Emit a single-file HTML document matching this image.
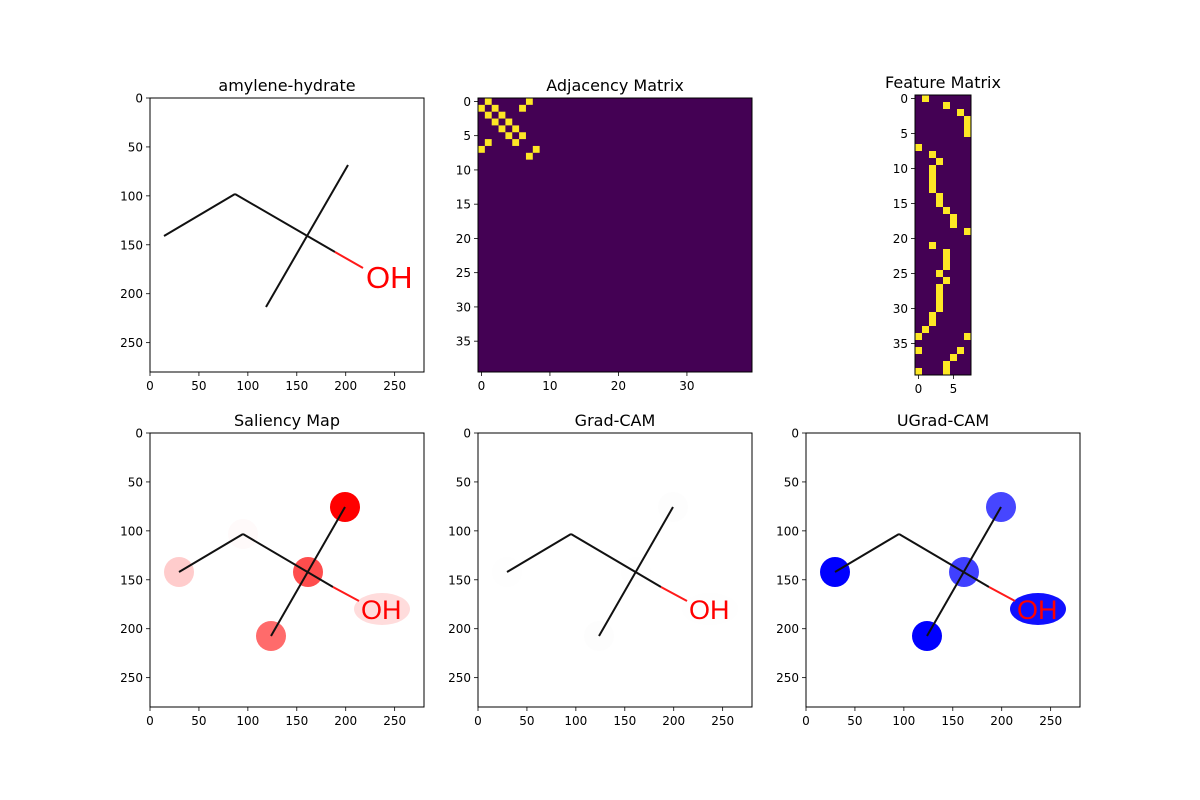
<!DOCTYPE html>
<html><head><meta charset="utf-8"><style>
html,body{margin:0;padding:0;background:#fff}
svg{display:block;font-family:"DejaVu Sans","Liberation Sans",sans-serif}
</style></head><body>
<svg id="fig" width="1200" height="800" viewBox="0 0 1200 800" xmlns="http://www.w3.org/2000/svg"></svg>
<script>
// Adjacency edges (row, col) for 40x40 matrix
const adjRows = [0,0,1,1,1,2,2,3,3,4,4,5,5,6,6,7,7,8];
const adjCols = [1,7,0,2,6,1,3,2,4,3,5,4,6,1,5,0,8,7];
// Feature matrix: 40 rows x 8 cols, ones
const featRows = [0,1,2,3,4,5,7,8,9,10,11,12,13,14,15,16,17,18,19,21,22,23,24,25,26,27,28,29,30,31,32,33,34,34,36,36,37,38,39,39];
const featCols = [1,4,6,7,7,7,0,2,3,2,2,2,2,3,3,4,5,5,7,2,4,4,4,3,4,3,3,3,3,2,2,1,0,7,0,6,5,4,0,4];
const molTicks = [0,50,100,150,200,250];
const adjXTicks = [0,10,20,30];
const matYTicks = [0,5,10,15,20,25,30,35];
const featXTicks = [0,5];
const titles = ["amylene-hydrate","Adjacency Matrix","Feature Matrix","Saliency Map","Grad-CAM","UGrad-CAM"];

const NS="http://www.w3.org/2000/svg";
const svg=document.getElementById('fig');
function mk(tag,attrs,parent){const e=document.createElementNS(NS,tag);for(const k in attrs)e.setAttribute(k,attrs[k]);(parent||svg).appendChild(e);return e;}

function axes(name,x,y,w,h,xmin,xmax,ymin,ymax,xt,yt,title){
  const g=mk('g',{});
  
  
  const sx=v=>x+(v-xmin)/(xmax-xmin)*w;
  const sy=v=>y+(v-ymin)/(ymax-ymin)*h;
  return {g,sx,sy,x,y,w,h,finish(){
    const fr=mk('rect',{x:x,y:y,width:w,height:h,fill:'none',stroke:'#000','stroke-width':1},g);
    
    
    xt.forEach(v=>{const px=sx(v);
      mk('line',{x1:px,x2:px,y1:y+h,y2:y+h+4,stroke:'#000','stroke-width':0.8},g);
      const t=mk('text',{x:px,y:y+h+18,'font-size':12,'text-anchor':'middle'},g);t.textContent=v;
      
      });
    yt.forEach(v=>{const py=sy(v);
      mk('line',{x1:x-4,x2:x,y1:py,y2:py,stroke:'#000','stroke-width':0.8},g);
      const t=mk('text',{x:x-7,y:py+4.5,'font-size':12,'text-anchor':'end'},g);t.textContent=v;
      
      });
    const tt=mk('text',{x:x+w/2,y:y-7,'font-size':16,'text-anchor':'middle'},g);tt.textContent=title;
    
    
  }};
}

function molecule(a,pts,ohFont){
  const X=a.x,Y=a.y,G=a.g;
  const P=p=>[X+p[0],Y+p[1]];
  const L=(p,q,c)=>{const A=P(p),B=P(q);mk('line',{x1:A[0],y1:A[1],x2:B[0],y2:B[1],stroke:c,'stroke-width':2},G);};
  L(pts.left,pts.apex,'#111');L(pts.apex,pts.mid,'#111');L(pts.mid,pts.red,'#ff1a1a');L(pts.top,pts.bot,'#111');
  const t=mk('text',{x:X+pts.oh[0],y:Y+pts.oh[1],'font-size':ohFont,fill:'#ff0000','font-family':'"Liberation Sans",sans-serif'},G);
  t.textContent='OH';
  
  
}

// Panel 1
const a1=axes('amylene-hydrate-panel',150,98,274,274,0,280,0,280,molTicks,molTicks,titles[0]);
mk('rect',{x:150,y:98,width:274,height:274,fill:'#fff'},a1.g);
molecule(a1,{left:[14,138],apex:[85,96],mid:[185,154],red:[213,170],top:[198,67],bot:[116,209],oh:[216,190]},31);
a1.finish();

// Panel 2 adjacency
const a2=axes('adjacency-matrix-panel',478,98,274,274,-0.5,39.5,-0.5,39.5,adjXTicks,matYTicks,titles[1]);
mk('rect',{x:478,y:98,width:274,height:274,fill:'#440154'},a2.g);
adjRows.forEach((r,i)=>{const c=adjCols[i];
  const cell=mk('rect',{x:a2.sx(c-0.5),y:a2.sy(r-0.5),width:a2.sx(c+0.5)-a2.sx(c-0.5),height:a2.sy(r+0.5)-a2.sy(r-0.5),fill:'#fde725'},a2.g);
  
  });
a2.finish();

// Panel 3 feature
const a3=axes('feature-matrix-panel',915,95,56,280,-0.5,7.5,-0.5,39.5,featXTicks,matYTicks,titles[2]);
mk('rect',{x:915,y:95,width:56,height:280,fill:'#440154'},a3.g);
featRows.forEach((r,i)=>{const c=featCols[i];
  const cell=mk('rect',{x:a3.sx(c-0.5),y:a3.sy(r-0.5),width:a3.sx(c+0.5)-a3.sx(c-0.5),height:a3.sy(r+0.5)-a3.sy(r-0.5),fill:'#fde725'},a3.g);
  
  });
a3.finish();

const bpts={left:[29,139],apex:[93,101],mid:[183,154],red:[209,168],top:[195,74],bot:[121,203],oh:[211,186]};
function blobs(a,cols){
  const G=a.g,X=a.x,Y=a.y;
  const c=(p,r,f)=>{const e=mk('circle',{cx:X+p[0],cy:Y+p[1],r:r,fill:f},G);
    
    };
  c([29,139],15,cols[0]);c([93,101],15,cols[1]);c([158,139],15,cols[2]);c([195,74],15,cols[3]);c([121,203],15,cols[4]);
  const e=mk('ellipse',{cx:X+232,cy:Y+176,rx:28,ry:16,fill:cols[5]},G);
  
  
}
// Panel 4 saliency
const a4=axes('saliency-map-panel',150,433,274,274,0,280,0,280,molTicks,molTicks,titles[3]);
blobs(a4,['#ffcccc','#fffafa','#ff4d4d','#ff0000','#ff6b6b','#ffdcdc']);
molecule(a4,bpts,27);a4.finish();
// Panel 5 gradcam
const a5=axes('grad-cam-panel',478,433,274,274,0,280,0,280,molTicks,molTicks,titles[4]);
blobs(a5,['#fefefe','#fff','#fefefe','#fdfdfd','#fdfdfd','#fefefe']);
molecule(a5,bpts,27);a5.finish();
// Panel 6 ugradcam
const a6=axes('ugrad-cam-panel',806,433,274,274,0,280,0,280,molTicks,molTicks,titles[5]);
blobs(a6,['#0000ff','#fff','#4040ff','#4646ff','#0000ff','#1010ff']);
molecule(a6,bpts,27);a6.finish();
</script>
</body></html>
